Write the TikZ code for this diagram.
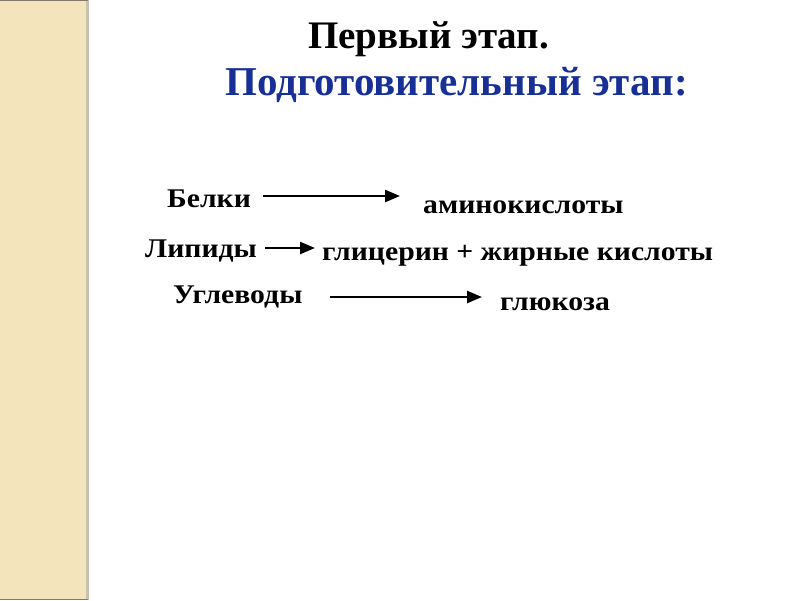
\documentclass[tikz,border=0pt]{standalone}
\usepackage{fontspec}
\setmainfont{Liberation Serif}
\newfontfamily\widefont[FakeStretch=1.1]{Liberation Serif}
\usepackage{xcolor}
\usetikzlibrary{arrows.meta, positioning}

\definecolor{stripfill}{RGB}{243,228,188}
\definecolor{stripedge}{RGB}{200,194,176}
\definecolor{stripline}{RGB}{130,122,110}
\definecolor{titleblue}{RGB}{24,48,150}

\begin{document}
\begin{tikzpicture}[
  x=1pt, y=-1pt,
  title/.style={anchor=base west, inner sep=0pt, font=\fontsize{39}{42}\selectfont\bfseries},
  subtitle/.style={title, text=titleblue, font=\fontsize{41}{44}\selectfont\bfseries},
  item/.style={anchor=base west, inner sep=0pt, font=\widefont\fontsize{27}{30}\selectfont\bfseries},
  arr/.style={-{Triangle[length=15pt, width=12pt]}, line width=2.4pt}
]
  \useasboundingbox (0,0) rectangle (800,600);
  \fill[white] (0,0) rectangle (800,600);

  % Left strip
  \fill[stripfill] (0,0) rectangle (86,600);
  \fill[stripedge] (86,0) rectangle (89,600);
  \draw[stripline, line width=1.2pt] (0,0.6) -- (88,0.6);
  \draw[stripline, line width=1.2pt] (0,599.4) -- (88,599.4);

  % Titles
  \node[title] (stage) at (308,48) {Первый этап.};
  \node[subtitle] (prep) at (225,95) {Подготовительный этап:};

  % Substances
  \node[item] (belki) at (167,207) {Белки};
  \node[item] (lipidy) at (145,257) {Липиды};
  \node[item] (uglevody) at (173,303) {Углеводы};

  % Products
  \node[item] (amino) at (423,213) {аминокислоты};
  \node[item] (glicerin) at (322,260) {глицерин + жирные кислоты};
  \node[item] (glukoza) at (500,310) {глюкоза};

  % Arrows
  \draw[arr] (263,196) coordinate (a1) -- (400,196) coordinate (b1);
  \draw[arr] (265,248) coordinate (a2) -- (315,248) coordinate (b2);
  \draw[arr] (330,297) coordinate (a3) -- (482,297) coordinate (b3);
\end{tikzpicture}
\end{document}
